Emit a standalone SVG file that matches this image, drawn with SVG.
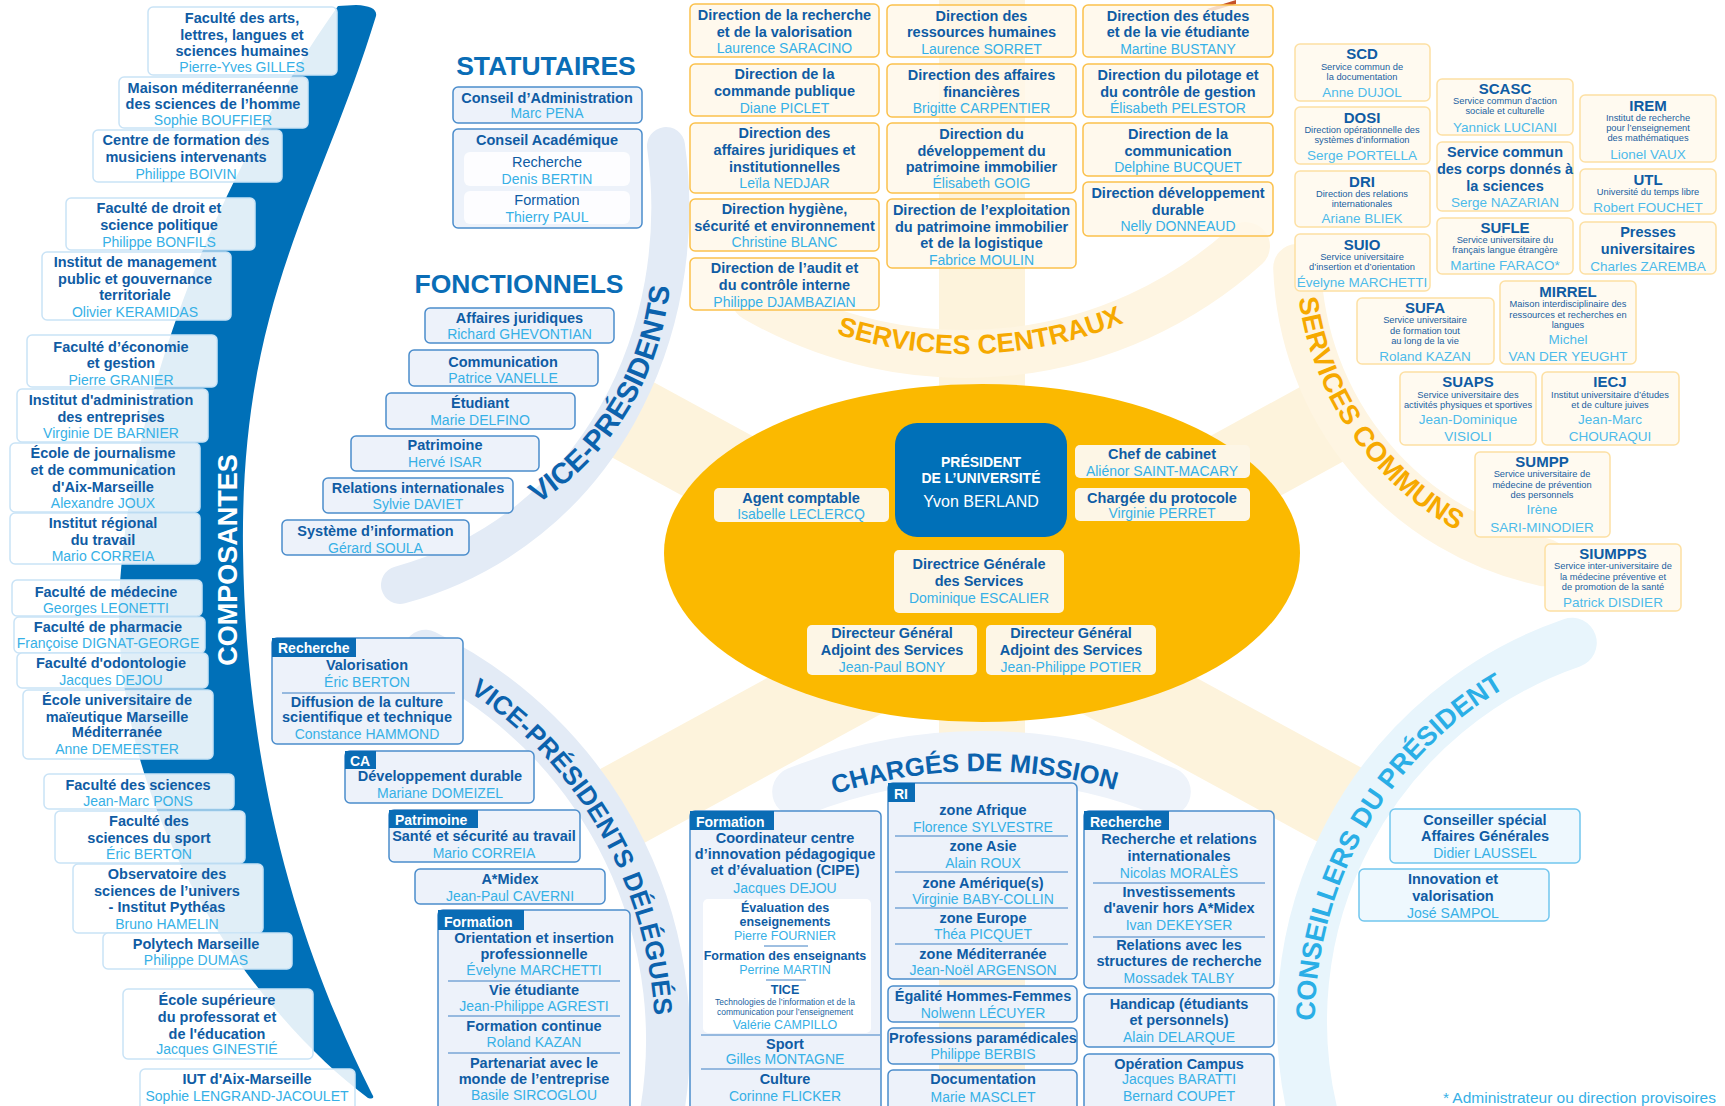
<svg xmlns="http://www.w3.org/2000/svg" width="1725" height="1106" viewBox="0 0 1725 1106">
<style>
text{font-family:"Liberation Sans",Arial,sans-serif}
.t{font-weight:700;font-size:14.5px;fill:#0f5ca4;text-anchor:middle}
.n{font-size:14px;fill:#36b0e6;text-anchor:middle}
.r{font-size:14.5px;fill:#0f5ca4;text-anchor:middle}
.a{font-weight:700;font-size:15px;fill:#0f5ca4;text-anchor:middle}
.s{font-size:9.3px;fill:#1a5fa0;text-anchor:middle}
.m{font-size:13.5px;fill:#4dbbea;text-anchor:middle}
.t12{font-weight:700;font-size:12.5px;fill:#0f5ca4;text-anchor:middle}
.n12{font-size:12.5px;fill:#36b0e6;text-anchor:middle}
.xs{font-size:8.5px;fill:#1a5fa0;text-anchor:middle}
.tab{font-weight:700;font-size:14px;fill:#fff}
.h{font-weight:700;font-size:26.5px;fill:#0a6db6;text-anchor:middle}
.w{fill:#fff;text-anchor:middle}
.arcb{font-weight:700;fill:#0b62ad}
.arco{font-weight:700;fill:#f6a900}
.arcc{font-weight:700;fill:#2aaee6}
.bc{fill:#fff;fill-opacity:.88;stroke:#c9e3f6;stroke-width:1.5}
.bv{fill:#edf2fa;stroke:#4b8dcc;stroke-width:1.5}
.bo{fill:#fff8e9;fill-opacity:.82;stroke:#fbc14c;stroke-width:1.5}
.bs{fill:#fffaf0;stroke:#fde0a3;stroke-width:1.5}
.be{fill:#fdf6e6}
.bk{fill:#eef8fe;stroke:#72c6ee;stroke-width:1.5}
.tb{fill:#0a6cb5}
.sep{stroke:#3f80c4;stroke-width:1}
.ray{stroke:#fdf3dc;stroke-width:86;fill:none}
.band{fill:none;stroke-linecap:round}
</style>
<defs>
<path id="p-vp" d="M 498.4 524.8 A 291 291 0 0 0 670.5 241.7"/>
<path id="p-vpd" d="M 406.4 657.2 A 419 419 0 0 1 652.3 1087.4"/>
<path id="p-sc" d="M 807.7 323.4 A 420 420 0 0 0 1151.8 310.2"/>
<path id="p-scm" d="M 1296.2 267.9 A 313 313 0 0 0 1484.2 544"/>
<path id="p-k" d="M 1315.2 1034.5 A 387 387 0 0 1 1516.7 681.2"/>
<path id="p-cm" d="M 818.4 799.8 A 477 477 0 0 1 1131.3 795.1"/>
</defs>
<rect width="1725" height="1106" fill="#fff"/>

<g id="connectors">
<path class="ray" d="M 982 610 L 982 -10"/>
<path class="ray" d="M 982 610 L 982 1120"/>
<path class="ray" d="M 982 610 L 613 409"/>
<path class="ray" d="M 982 610 L 613 811"/>
<path class="ray" d="M 982 610 L 1333 418"/>
<path class="ray" d="M 982 610 L 1351 811"/>
</g>

<g id="bands">
<path class="band" d="M 666 146 C 692 330 600 530 400 585" stroke="#e3ebf6" stroke-width="38"/>
<path class="band" d="M 425.4 651.7 A 432 432 0 0 1 658.6 1129.8" stroke="#e3ebf6" stroke-width="44"/>
<path class="band" d="M 755 297.7 A 420 420 0 0 0 1246 246.1" stroke="#fef5e2" stroke-width="48"/>
<path class="band" d="M 1297.2 267.9 A 312 312 0 0 0 1544.1 562.2" stroke="#fef5e2" stroke-width="48"/>
<path class="band" d="M 1315.6 1124.5 A 400 400 0 0 1 1571.8 642.8" stroke="#e8f5fc" stroke-width="50"/>
<path class="band" d="M 797.2 791.8 A 492 492 0 0 1 1165.8 791.8" stroke="#eef3fa" stroke-width="50"/>
<path d="M 356 5 Q 378 6 376 16 C 320 200 240 300 243 550 C 246 780 300 950 372 1094 Q 376 1100 368 1098 C 250 1010 100 800 121 570 C 140 340 250 130 338 6 Z" fill="#0070b8"/>
<path d="M 1207 9 L 1236 0 L 1236 4 L 1212 11 Z" fill="#c4522a"/>
</g>

<g id="centre">
<ellipse cx="982" cy="553" rx="318" ry="169" fill="#fbb900"/>
</g>

<g id="labels">
<text class="arcb" font-size="29"><textPath href="#p-vp" startOffset="50%" text-anchor="middle">VICE-PRÉSIDENTS</textPath></text>
<text class="arcb" font-size="26"><textPath href="#p-vpd" startOffset="50%" text-anchor="middle">VICE-PRÉSIDENTS DÉLÉGUÉS</textPath></text>
<text class="arco" font-size="27"><textPath href="#p-sc" startOffset="50%" text-anchor="middle">SERVICES CENTRAUX</textPath></text>
<text class="arco" font-size="27.5"><textPath href="#p-scm" startOffset="50%" text-anchor="middle">SERVICES COMMUNS</textPath></text>
<text class="arcc" font-size="27"><textPath href="#p-k" startOffset="50%" text-anchor="middle">CONSEILLERS DU PRÉSIDENT</textPath></text>
<text class="arcb" font-size="25.5"><textPath href="#p-cm" startOffset="50%" text-anchor="middle">CHARGÉS DE MISSION</textPath></text>
<text transform="translate(237,560) rotate(-90)" font-weight="700" font-size="27" fill="#fff" text-anchor="middle">COMPOSANTES</text>
<text class="h" x="546" y="75">STATUTAIRES</text>
<text class="h" x="519" y="293">FONCTIONNELS</text>
<text x="1716" y="1103" font-size="15.5" fill="#36b0e6" text-anchor="end">* Administrateur ou direction provisoires</text>
</g>

<!-- COMPOSANTES -->
<g id="c1"><rect class="bc" x="148" y="7" width="189" height="68" rx="5"/><text class="t" x="242" y="23">Faculté des arts,</text><text class="t" x="242" y="39.5">lettres, langues et</text><text class="t" x="242" y="56">sciences humaines</text><text class="n" x="242" y="72">Pierre-Yves GILLES</text></g>
<g id="c2"><rect class="bc" x="119" y="77" width="189" height="51" rx="5"/><text class="t" x="213" y="93">Maison méditerranéenne</text><text class="t" x="213" y="109">des sciences de l’homme</text><text class="n" x="213" y="125">Sophie BOUFFIER</text></g>
<g id="c3"><rect class="bc" x="93" y="130" width="189" height="52" rx="5"/><text class="t" x="186" y="145">Centre de formation des</text><text class="t" x="186" y="162">musiciens intervenants</text><text class="n" x="186" y="179">Philippe BOIVIN</text></g>
<g id="c4"><rect class="bc" x="66" y="198" width="189" height="52" rx="5"/><text class="t" x="159" y="213">Faculté de droit et</text><text class="t" x="159" y="230">science politique</text><text class="n" x="159" y="247">Philippe BONFILS</text></g>
<g id="c5"><rect class="bc" x="42" y="252" width="189" height="68" rx="5"/><text class="t" x="135" y="267">Institut de management</text><text class="t" x="135" y="284">public et gouvernance</text><text class="t" x="135" y="300">territoriale</text><text class="n" x="135" y="317">Olivier KERAMIDAS</text></g>
<g id="c6"><rect class="bc" x="27" y="335" width="190" height="52" rx="5"/><text class="t" x="121" y="352">Faculté d’économie</text><text class="t" x="121" y="368">et gestion</text><text class="n" x="121" y="385">Pierre GRANIER</text></g>
<g id="c7"><rect class="bc" x="17" y="389" width="191" height="53" rx="5"/><text class="t" x="111" y="405">Institut d'administration</text><text class="t" x="111" y="422">des entreprises</text><text class="n" x="111" y="438">Virginie DE BARNIER</text></g>
<g id="c8"><rect class="bc" x="10" y="443" width="190" height="69" rx="5"/><text class="t" x="103" y="458">École de journalisme</text><text class="t" x="103" y="475">et de communication</text><text class="t" x="103" y="492">d'Aix-Marseille</text><text class="n" x="103" y="508">Alexandre JOUX</text></g>
<g id="c9"><rect class="bc" x="10" y="513" width="190" height="51" rx="5"/><text class="t" x="103" y="528">Institut régional</text><text class="t" x="103" y="545">du travail</text><text class="n" x="103" y="561">Mario CORREIA</text></g>
<g id="c10"><rect class="bc" x="12" y="580" width="190" height="36" rx="5"/><text class="t" x="106" y="597">Faculté de médecine</text><text class="n" x="106" y="613">Georges LEONETTI</text></g>
<g id="c11"><rect class="bc" x="14" y="617" width="191" height="36" rx="5"/><text class="t" x="108" y="632">Faculté de pharmacie</text><text class="n" x="108" y="648">Françoise DIGNAT-GEORGE</text></g>
<g id="c12"><rect class="bc" x="17" y="653" width="191" height="35" rx="5"/><text class="t" x="111" y="668">Faculté d'odontologie</text><text class="n" x="111" y="685">Jacques DEJOU</text></g>
<g id="c13"><rect class="bc" x="23" y="690" width="190" height="69" rx="5"/><text class="t" x="117" y="705">École universitaire de</text><text class="t" x="117" y="722">maïeutique Marseille</text><text class="t" x="117" y="737">Méditerranée</text><text class="n" x="117" y="754">Anne DEMEESTER</text></g>
<g id="c14"><rect class="bc" x="44" y="774" width="190" height="35" rx="5"/><text class="t" x="138" y="790">Faculté des sciences</text><text class="n" x="138" y="806">Jean-Marc PONS</text></g>
<g id="c15"><rect class="bc" x="55" y="811" width="190" height="52" rx="5"/><text class="t" x="149" y="826">Faculté des</text><text class="t" x="149" y="843">sciences du sport</text><text class="n" x="149" y="859">Éric BERTON</text></g>
<g id="c16"><rect class="bc" x="73" y="864" width="190" height="69" rx="5"/><text class="t" x="167" y="879">Observatoire des</text><text class="t" x="167" y="896">sciences de l’univers</text><text class="t" x="167" y="912">- Institut Pythéas</text><text class="n" x="167" y="929">Bruno HAMELIN</text></g>
<g id="c17"><rect class="bc" x="103" y="933" width="189" height="36" rx="5"/><text class="t" x="196" y="949">Polytech Marseille</text><text class="n" x="196" y="965">Philippe DUMAS</text></g>
<g id="c18"><rect class="bc" x="123" y="989" width="190" height="70" rx="5"/><text class="t" x="217" y="1005">École supérieure</text><text class="t" x="217" y="1022">du professorat et</text><text class="t" x="217" y="1039">de l'éducation</text><text class="n" x="217" y="1054">Jacques GINESTIÉ</text></g>
<g id="c19"><rect class="bc" x="140" y="1069" width="215" height="42" rx="5"/><text class="t" x="247" y="1084">IUT d'Aix-Marseille</text><text class="n" x="247" y="1101">Sophie LENGRAND-JACOULET</text></g>

<!-- STATUTAIRES -->
<g id="s1"><rect class="bv" x="453" y="87" width="189" height="36" rx="5"/><text class="t" x="547" y="103">Conseil d’Administration</text><text class="n" x="547" y="118">Marc PENA</text></g>
<g id="s2"><rect class="bv" x="453" y="129" width="189" height="99" rx="5"/><text class="t" x="547" y="145">Conseil Académique</text>
<rect x="464" y="152" width="166" height="34" rx="6" fill="#fff" fill-opacity=".85"/><text class="r" x="547" y="167">Recherche</text><text class="n" x="547" y="184">Denis BERTIN</text>
<rect x="464" y="191" width="166" height="33" rx="6" fill="#fff" fill-opacity=".85"/><text class="r" x="547" y="205">Formation</text><text class="n" x="547" y="222">Thierry PAUL</text></g>

<!-- FONCTIONNELS -->
<g id="f1"><rect class="bv" x="425" y="308" width="189" height="35" rx="5"/><text class="t" x="519.5" y="323">Affaires juridiques</text><text class="n" x="519.5" y="339">Richard GHEVONTIAN</text></g>
<g id="f2"><rect class="bv" x="409" y="350" width="189" height="36" rx="5"/><text class="t" x="503" y="367">Communication</text><text class="n" x="503" y="383">Patrice VANELLE</text></g>
<g id="f3"><rect class="bv" x="386" y="393" width="189" height="36" rx="5"/><text class="t" x="480" y="408">Étudiant</text><text class="n" x="480" y="425">Marie DELFINO</text></g>
<g id="f4"><rect class="bv" x="351" y="436" width="188" height="35" rx="5"/><text class="t" x="445" y="450">Patrimoine</text><text class="n" x="445" y="467">Hervé ISAR</text></g>
<g id="f5"><rect class="bv" x="323" y="478" width="190" height="35" rx="5"/><text class="t" x="418" y="493">Relations internationales</text><text class="n" x="418" y="509">Sylvie DAVIET</text></g>
<g id="f6"><rect class="bv" x="282" y="520" width="187" height="35" rx="5"/><text class="t" x="375.5" y="536">Système d’information</text><text class="n" x="375.5" y="553">Gérard SOULA</text></g>

<!-- VICE-PRESIDENTS DELEGUES -->
<g id="vpd-recherche"><rect class="bv" x="272" y="638" width="191" height="106" rx="5"/><rect class="tb" x="272" y="638" width="84" height="19"/><text class="tab" x="278" y="653">Recherche</text>
<text class="t" x="367" y="670">Valorisation</text><text class="n" x="367" y="687">Éric BERTON</text><line class="sep" x1="282" y1="693" x2="455" y2="693"/>
<text class="t" x="367" y="707">Diffusion de la culture</text><text class="t" x="367" y="722">scientifique et technique</text><text class="n" x="367" y="739">Constance HAMMOND</text></g>
<g id="vpd-ca"><rect class="bv" x="345" y="751" width="189" height="52" rx="5"/><rect class="tb" x="345" y="751" width="31" height="18"/><text class="tab" x="350" y="766">CA</text><text class="t" x="440" y="781">Développement durable</text><text class="n" x="440" y="798">Mariane DOMEIZEL</text></g>
<g id="vpd-patrimoine"><rect class="bv" x="389" y="810" width="191" height="52" rx="5"/><rect class="tb" x="389" y="810" width="89" height="18"/><text class="tab" x="395" y="825">Patrimoine</text><text class="t" x="484" y="841">Santé et sécurité au travail</text><text class="n" x="484" y="858">Mario CORREIA</text></g>
<g id="vpd-amidex"><rect class="bv" x="415" y="869" width="190" height="35" rx="5"/><text class="t" x="510" y="884">A*Midex</text><text class="n" x="510" y="901">Jean-Paul CAVERNI</text></g>
<g id="vpd-formation"><rect class="bv" x="438" y="910" width="192" height="205" rx="5"/><rect class="tb" x="438" y="910" width="86" height="20"/><text class="tab" x="444" y="927">Formation</text>
<text class="t" x="534" y="943">Orientation et insertion</text><text class="t" x="534" y="959">professionnelle</text><text class="n" x="534" y="975">Évelyne MARCHETTI</text><line class="sep" x1="448" y1="981" x2="620" y2="981"/>
<text class="t" x="534" y="995">Vie étudiante</text><text class="n" x="534" y="1011">Jean-Philippe AGRESTI</text><line class="sep" x1="448" y1="1016" x2="620" y2="1016"/>
<text class="t" x="534" y="1031">Formation continue</text><text class="n" x="534" y="1047">Roland KAZAN</text><line class="sep" x1="448" y1="1053" x2="620" y2="1053"/>
<text class="t" x="534" y="1068">Partenariat avec le</text><text class="t" x="534" y="1084">monde de l’entreprise</text><text class="n" x="534" y="1100">Basile SIRCOGLOU</text></g>

<!-- CENTRE -->
<g id="president"><rect x="895" y="423" width="172" height="114" rx="22" fill="#0070b8"/><text class="w" x="981" y="467" font-weight="700" font-size="14">PRÉSIDENT</text><text class="w" x="981" y="483" font-weight="700" font-size="14">DE L’UNIVERSITÉ</text><text class="w" x="981" y="507" font-size="16">Yvon BERLAND</text></g>
<g id="chef-cabinet"><rect class="be" x="1075" y="445" width="175" height="33" rx="5"/><text class="t" x="1162" y="459">Chef de cabinet</text><text class="n" x="1162" y="476">Aliénor SAINT-MACARY</text></g>
<g id="protocole"><rect class="be" x="1075" y="488" width="175" height="33" rx="5"/><text class="t" x="1162" y="503">Chargée du protocole</text><text class="n" x="1162" y="518">Virginie PERRET</text></g>
<g id="agent-comptable"><rect class="be" x="714" y="488" width="175" height="34" rx="5"/><text class="t" x="801" y="503">Agent comptable</text><text class="n" x="801" y="519">Isabelle LECLERCQ</text></g>
<g id="dgs"><rect class="be" x="894" y="550" width="170" height="63" rx="5"/><text class="t" x="979" y="569">Directrice Générale</text><text class="t" x="979" y="586">des Services</text><text class="n" x="979" y="603">Dominique ESCALIER</text></g>
<g id="dga1"><rect class="be" x="807" y="625" width="170" height="50" rx="5"/><text class="t" x="892" y="638">Directeur Général</text><text class="t" x="892" y="655">Adjoint des Services</text><text class="n" x="892" y="672">Jean-Paul BONY</text></g>
<g id="dga2"><rect class="be" x="986" y="625" width="170" height="50" rx="5"/><text class="t" x="1071" y="638">Directeur Général</text><text class="t" x="1071" y="655">Adjoint des Services</text><text class="n" x="1071" y="672">Jean-Philippe POTIER</text></g>

<!-- SERVICES CENTRAUX -->
<g id="sc1"><rect class="bo" x="690" y="4" width="189" height="53" rx="5"/><text class="t" x="784.5" y="20">Direction de la recherche</text><text class="t" x="784.5" y="37">et de la valorisation</text><text class="n" x="784.5" y="53">Laurence SARACINO</text></g>
<g id="sc2"><rect class="bo" x="690" y="64" width="189" height="52" rx="5"/><text class="t" x="784.5" y="79">Direction de la</text><text class="t" x="784.5" y="96">commande publique</text><text class="n" x="784.5" y="113">Diane PICLET</text></g>
<g id="sc3"><rect class="bo" x="690" y="123" width="189" height="70" rx="5"/><text class="t" x="784.5" y="138">Direction des</text><text class="t" x="784.5" y="155">affaires juridiques et</text><text class="t" x="784.5" y="172">institutionnelles</text><text class="n" x="784.5" y="188">Leïla NEDJAR</text></g>
<g id="sc4"><rect class="bo" x="690" y="199" width="189" height="52" rx="5"/><text class="t" x="784.5" y="214">Direction hygiène,</text><text class="t" x="784.5" y="231">sécurité et environnement</text><text class="n" x="784.5" y="247">Christine BLANC</text></g>
<g id="sc5"><rect class="bo" x="690" y="258" width="189" height="52" rx="5"/><text class="t" x="784.5" y="273">Direction de l’audit et</text><text class="t" x="784.5" y="290">du contrôle interne</text><text class="n" x="784.5" y="307">Philippe DJAMBAZIAN</text></g>
<g id="sc6"><rect class="bo" x="887" y="5" width="189" height="52" rx="5"/><text class="t" x="981.5" y="21">Direction des</text><text class="t" x="981.5" y="37">ressources humaines</text><text class="n" x="981.5" y="54">Laurence SORRET</text></g>
<g id="sc7"><rect class="bo" x="887" y="64" width="189" height="53" rx="5"/><text class="t" x="981.5" y="80">Direction des affaires</text><text class="t" x="981.5" y="97">financières</text><text class="n" x="981.5" y="113">Brigitte CARPENTIER</text></g>
<g id="sc8"><rect class="bo" x="887" y="123" width="189" height="70" rx="5"/><text class="t" x="981.5" y="139">Direction du</text><text class="t" x="981.5" y="156">développement du</text><text class="t" x="981.5" y="172">patrimoine immobilier</text><text class="n" x="981.5" y="188">Élisabeth GOIG</text></g>
<g id="sc9"><rect class="bo" x="887" y="199" width="189" height="69" rx="5"/><text class="t" x="981.5" y="215">Direction de l’exploitation</text><text class="t" x="981.5" y="232">du patrimoine immobilier</text><text class="t" x="981.5" y="248">et de la logistique</text><text class="n" x="981.5" y="265">Fabrice MOULIN</text></g>
<g id="sc10"><rect class="bo" x="1083" y="5" width="190" height="52" rx="5"/><text class="t" x="1178" y="21">Direction des études</text><text class="t" x="1178" y="37">et de la vie étudiante</text><text class="n" x="1178" y="54">Martine BUSTANY</text></g>
<g id="sc11"><rect class="bo" x="1083" y="64" width="190" height="53" rx="5"/><text class="t" x="1178" y="80">Direction du pilotage et</text><text class="t" x="1178" y="97">du contrôle de gestion</text><text class="n" x="1178" y="113">Élisabeth PELESTOR</text></g>
<g id="sc12"><rect class="bo" x="1083" y="123" width="190" height="53" rx="5"/><text class="t" x="1178" y="139">Direction de la</text><text class="t" x="1178" y="156">communication</text><text class="n" x="1178" y="172">Delphine BUCQUET</text></g>
<g id="sc13"><rect class="bo" x="1083" y="182" width="190" height="54" rx="5"/><text class="t" x="1178" y="198">Direction développement</text><text class="t" x="1178" y="215">durable</text><text class="n" x="1178" y="231">Nelly DONNEAUD</text></g>

<!-- SERVICES COMMUNS -->
<g id="scd"><rect class="bs" x="1295" y="44" width="135" height="57" rx="5"/><text class="a" x="1362" y="59">SCD</text><text class="s" x="1362" y="70">Service commun de</text><text class="s" x="1362" y="80">la documentation</text><text class="m" x="1362" y="97">Anne DUJOL</text></g>
<g id="dosi"><rect class="bs" x="1295" y="107" width="135" height="57" rx="5"/><text class="a" x="1362" y="123">DOSI</text><text class="s" x="1362" y="133">Direction opérationnelle des</text><text class="s" x="1362" y="143">systèmes d’information</text><text class="m" x="1362" y="160">Serge PORTELLA</text></g>
<g id="dri"><rect class="bs" x="1295" y="171" width="135" height="56" rx="5"/><text class="a" x="1362" y="187">DRI</text><text class="s" x="1362" y="197">Direction des relations</text><text class="s" x="1362" y="207">internationales</text><text class="m" x="1362" y="223">Ariane BLIEK</text></g>
<g id="suio"><rect class="bs" x="1295" y="234" width="135" height="57" rx="5"/><text class="a" x="1362" y="250">SUIO</text><text class="s" x="1362" y="260">Service universitaire</text><text class="s" x="1362" y="270">d’insertion et d’orientation</text><text class="m" x="1362" y="287">Évelyne MARCHETTI</text></g>
<g id="scasc"><rect class="bs" x="1437" y="79" width="136" height="56" rx="5"/><text class="a" x="1505" y="94">SCASC</text><text class="s" x="1505" y="104">Service commun d’action</text><text class="s" x="1505" y="114">sociale et culturelle</text><text class="m" x="1505" y="132">Yannick LUCIANI</text></g>
<g id="corps-donnes"><rect class="bs" x="1437" y="142" width="136" height="69" rx="5"/><text class="t" x="1505" y="157" font-size="13">Service commun</text><text class="t" x="1505" y="174" font-size="13">des corps donnés à</text><text class="t" x="1505" y="191" font-size="13">la sciences</text><text class="m" x="1505" y="207">Serge NAZARIAN</text></g>
<g id="sufle"><rect class="bs" x="1437" y="218" width="136" height="56" rx="5"/><text class="a" x="1505" y="233">SUFLE</text><text class="s" x="1505" y="243">Service universitaire du</text><text class="s" x="1505" y="253">français langue étrangère</text><text class="m" x="1505" y="270">Martine FARACO*</text></g>
<g id="irem"><rect class="bs" x="1580" y="95" width="136" height="67" rx="5"/><text class="a" x="1648" y="111">IREM</text><text class="s" x="1648" y="121">Institut de recherche</text><text class="s" x="1648" y="131">pour l’enseignement</text><text class="s" x="1648" y="141">des mathématiques</text><text class="m" x="1648" y="159">Lionel VAUX</text></g>
<g id="utl"><rect class="bs" x="1580" y="169" width="136" height="45" rx="5"/><text class="a" x="1648" y="185">UTL</text><text class="s" x="1648" y="195">Université du temps libre</text><text class="m" x="1648" y="212">Robert FOUCHET</text></g>
<g id="presses"><rect class="bs" x="1580" y="222" width="136" height="52" rx="5"/><text class="t" x="1648" y="237">Presses</text><text class="t" x="1648" y="254">universitaires</text><text class="m" x="1648" y="271">Charles ZAREMBA</text></g>
<g id="sufa"><rect class="bs" x="1357" y="298" width="137" height="66" rx="5"/><text class="a" x="1425" y="313">SUFA</text><text class="s" x="1425" y="323">Service universitaire</text><text class="s" x="1425" y="334">de formation tout</text><text class="s" x="1425" y="344">au long de la vie</text><text class="m" x="1425" y="361">Roland KAZAN</text></g>
<g id="mirrel"><rect class="bs" x="1500" y="281" width="136" height="83" rx="5"/><text class="a" x="1568" y="297">MIRREL</text><text class="s" x="1568" y="307">Maison interdisciplinaire des</text><text class="s" x="1568" y="318">ressources et recherches en</text><text class="s" x="1568" y="328">langues</text><text class="m" x="1568" y="344">Michel</text><text class="m" x="1568" y="361">VAN DER YEUGHT</text></g>
<g id="suaps"><rect class="bs" x="1400" y="372" width="136" height="73" rx="5"/><text class="a" x="1468" y="387">SUAPS</text><text class="s" x="1468" y="398">Service universitaire des</text><text class="s" x="1468" y="408">activités physiques et sportives</text><text class="m" x="1468" y="424">Jean-Dominique</text><text class="m" x="1468" y="441">VISIOLI</text></g>
<g id="iecj"><rect class="bs" x="1542" y="372" width="137" height="73" rx="5"/><text class="a" x="1610" y="387">IECJ</text><text class="s" x="1610" y="398">Institut universitaire d’études</text><text class="s" x="1610" y="408">et de culture juives</text><text class="m" x="1610" y="424">Jean-Marc</text><text class="m" x="1610" y="441">CHOURAQUI</text></g>
<g id="sumpp"><rect class="bs" x="1475" y="452" width="135" height="85" rx="5"/><text class="a" x="1542" y="467">SUMPP</text><text class="s" x="1542" y="477">Service universitaire de</text><text class="s" x="1542" y="488">médecine de prévention</text><text class="s" x="1542" y="498">des personnels</text><text class="m" x="1542" y="514">Irène</text><text class="m" x="1542" y="532">SARI-MINODIER</text></g>
<g id="siumpps"><rect class="bs" x="1545" y="544" width="136" height="67" rx="5"/><text class="a" x="1613" y="559">SIUMPPS</text><text class="s" x="1613" y="569">Service inter-universitaire de</text><text class="s" x="1613" y="580">la médecine préventive et</text><text class="s" x="1613" y="590">de promotion de la santé</text><text class="m" x="1613" y="607">Patrick DISDIER</text></g>

<!-- CONSEILLERS -->
<g id="k1"><rect class="bk" x="1390" y="809" width="190" height="54" rx="5"/><text class="t" x="1485" y="825">Conseiller spécial</text><text class="t" x="1485" y="841">Affaires Générales</text><text class="n" x="1485" y="858">Didier LAUSSEL</text></g>
<g id="k2"><rect class="bk" x="1359" y="869" width="190" height="52" rx="5"/><text class="t" x="1453" y="884">Innovation et</text><text class="t" x="1453" y="901">valorisation</text><text class="n" x="1453" y="918">José SAMPOL</text></g>

<!-- CHARGES DE MISSION -->
<g id="cm-formation"><rect class="bv" x="690" y="811" width="191" height="305" rx="5"/><rect class="tb" x="690" y="811" width="84" height="19"/><text class="tab" x="696" y="827">Formation</text>
<text class="t" x="785" y="843">Coordinateur centre</text><text class="t" x="785" y="859">d’innovation pédagogique</text><text class="t" x="785" y="875">et d’évaluation (CIPE)</text><text class="n" x="785" y="893">Jacques DEJOU</text>
<rect x="703" y="899" width="168" height="134" rx="5" fill="#fff"/>
<text class="t12" x="785" y="912">Évaluation des</text><text class="t12" x="785" y="926">enseignements</text><text class="n12" x="785" y="940">Pierre FOURNIER</text><line class="sep" x1="764" y1="946" x2="808" y2="946"/>
<text class="t12" x="785" y="960">Formation des enseignants</text><text class="n12" x="785" y="974">Perrine MARTIN</text><line class="sep" x1="766" y1="980" x2="806" y2="980"/>
<text class="t12" x="785" y="994">TICE</text><text class="xs" x="785" y="1005">Technologies de l’information et de la</text><text class="xs" x="785" y="1015">communication pour l’enseignement</text><text class="n12" x="785" y="1029">Valérie CAMPILLO</text>
<line class="sep" x1="701" y1="1035" x2="880" y2="1035"/>
<text class="t" x="785" y="1049">Sport</text><text class="n" x="785" y="1064">Gilles MONTAGNE</text><line class="sep" x1="701" y1="1069" x2="880" y2="1069"/>
<text class="t" x="785" y="1084">Culture</text><text class="n" x="785" y="1101">Corinne FLICKER</text></g>
<g id="cm-ri"><rect class="bv" x="888" y="783" width="189" height="196" rx="5"/><rect class="tb" x="888" y="783" width="27" height="19"/><text class="tab" x="894" y="799">RI</text>
<text class="t" x="983" y="815">zone Afrique</text><text class="n" x="983" y="832">Florence SYLVESTRE</text><line class="sep" x1="895" y1="836" x2="1068" y2="836"/>
<text class="t" x="983" y="851">zone Asie</text><text class="n" x="983" y="868">Alain ROUX</text><line class="sep" x1="895" y1="872" x2="1068" y2="872"/>
<text class="t" x="983" y="888">zone Amérique(s)</text><text class="n" x="983" y="904">Virginie BABY-COLLIN</text><line class="sep" x1="895" y1="908" x2="1068" y2="908"/>
<text class="t" x="983" y="923">zone Europe</text><text class="n" x="983" y="939">Théa PICQUET</text><line class="sep" x1="895" y1="944" x2="1068" y2="944"/>
<text class="t" x="983" y="959">zone Méditerranée</text><text class="n" x="983" y="975">Jean-Noël ARGENSON</text></g>
<g id="cm-egalite"><rect class="bv" x="888" y="986" width="189" height="36" rx="5"/><text class="t" x="983" y="1001">Égalité Hommes-Femmes</text><text class="n" x="983" y="1018">Nolwenn LÉCUYER</text></g>
<g id="cm-paramedical"><rect class="bv" x="888" y="1028" width="189" height="36" rx="5"/><text class="t" x="983" y="1043" font-size="13.5">Professions paramédicales</text><text class="n" x="983" y="1059">Philippe BERBIS</text></g>
<g id="cm-documentation"><rect class="bv" x="888" y="1070" width="189" height="45" rx="5"/><text class="t" x="983" y="1084">Documentation</text><text class="n" x="983" y="1102">Marie MASCLET</text></g>
<g id="cm-recherche"><rect class="bv" x="1084" y="811" width="190" height="177" rx="5"/><rect class="tb" x="1084" y="811" width="85" height="19"/><text class="tab" x="1090" y="827">Recherche</text>
<text class="t" x="1179" y="844">Recherche et relations</text><text class="t" x="1179" y="861">internationales</text><text class="n" x="1179" y="878">Nicolas MORALÈS</text><line class="sep" x1="1093" y1="883" x2="1265" y2="883"/>
<text class="t" x="1179" y="897">Investissements</text><text class="t" x="1179" y="913">d'avenir hors A*Midex</text><text class="n" x="1179" y="930">Ivan DEKEYSER</text><line class="sep" x1="1093" y1="937" x2="1265" y2="937"/>
<text class="t" x="1179" y="950">Relations avec les</text><text class="t" x="1179" y="966">structures de recherche</text><text class="n" x="1179" y="983">Mossadek TALBY</text></g>
<g id="cm-handicap"><rect class="bv" x="1084" y="994" width="190" height="53" rx="5"/><text class="t" x="1179" y="1009">Handicap (étudiants</text><text class="t" x="1179" y="1025">et personnels)</text><text class="n" x="1179" y="1042">Alain DELARQUE</text></g>
<g id="cm-campus"><rect class="bv" x="1084" y="1054" width="190" height="60" rx="5"/><text class="t" x="1179" y="1069">Opération Campus</text><text class="n" x="1179" y="1084">Jacques BARATTI</text><text class="n" x="1179" y="1101">Bernard COUPET</text></g>
</svg>
